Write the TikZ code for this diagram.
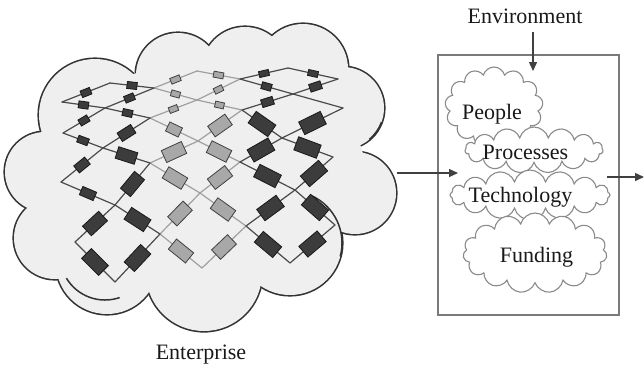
\documentclass[tikz,border=0pt]{standalone}
\usepackage{fontspec}
\setmainfont{Liberation Serif}
\usetikzlibrary{arrows.meta,shapes.symbols,calc}

\definecolor{cloudFill}{HTML}{EFEFEF}
\definecolor{cloudEdge}{HTML}{333333}
\definecolor{rectDark}{HTML}{3C3C3C}
\definecolor{rectGrey}{HTML}{A8A8A8}
\definecolor{wireDark}{HTML}{4A4A4A}
\definecolor{wireGrey}{HTML}{A0A0A0}
\definecolor{arrowInk}{HTML}{404040}
\definecolor{frameInk}{HTML}{7A7A7A}
\definecolor{puffInk}{HTML}{8A8A8A}

\tikzset{
  caption/.style={font=\fontsize{22}{26}\selectfont, inner sep=0pt, anchor=base, text=black!90},
  wire/.style={line width=1.2pt, line cap=round, line join=round},
  dark wire/.style={wire, draw=wireDark},
  grey wire/.style={wire, draw=wireGrey},
  module/.style={sloped, rectangle, inner sep=0pt, line width=0.8pt},
  dark mod/.style 2 args={module, fill=rectDark, draw=black!90, minimum width=#1pt, minimum height=#2pt},
  grey mod/.style 2 args={module, fill=rectGrey, draw=black!75, minimum width=#1pt, minimum height=#2pt},
  puff/.style={cloud, draw=puffInk, fill=white, line width=1.1pt, inner sep=0pt, aspect=1},
  flow/.style={draw=arrowInk, line width=1.4pt, -{Triangle[length=9pt,width=8pt]}},
  seam/.style={draw=cloudEdge, line width=1.5pt},
}
\def\greyname{grey}
\def\darkname{dark}

\begin{document}
\begin{tikzpicture}[x=1pt, y=-1pt]
\useasboundingbox (0,0) rectangle (644,368);

% ---------- the enterprise cloud: union of overlapping circles ----------
\def\bumps{95/115/56, 178/75/42, 245/70/43, 303/69/45, 343/108/41, 355/193/41,
  290/243/52, 204/273/58, 107/263/51, 55/238/41, 45/172/40}
\foreach \cx/\cy/\r in \bumps
  \draw[draw=cloudEdge, line width=3.2pt] (\cx,\cy) circle[radius=\r pt];
\foreach \cx/\cy/\r in \bumps
  \fill[cloudFill] (\cx,\cy) circle[radius=\r pt];
\fill[cloudFill] (200,170) ellipse[x radius=165pt, y radius=105pt];
% puff edges that show through the inside of the cloud
\draw[seam] ([shift={(65:52pt)}]290,243) arc[start angle=65, end angle=-15, radius=52pt];
\draw[seam] ([shift={(211:45pt)}]105,255) arc[start angle=211, end angle=289, radius=45pt];
\draw[seam] ([shift={(-20:41pt)}]343,108) arc[start angle=-20, end angle=-50, radius=41pt];

% ---------- lattice vertices ----------
% boundary vertices b<i><v>, i = 0..3 across, v = 0..3 front to back
\foreach \name/\x/\y in {
  b00/75/242, b01/61/182, b02/63/133, b03/62/102,
  b10/160/234, b11/150/163, b12/150/118, b13/154/88,
  b20/246/226, b21/240/162, b22/242/110, b23/240/79,
  b30/335/225, b31/333/157, b32/343/108, b33/338/79}
  \coordinate (\name) at (\x,\y);
% centre vertices c<j><k>, j = column, k = 0..4 front to back
\foreach \name/\x/\y in {
  c00/115/282, c01/115/205, c02/103/148, c03/105/108, c04/110/83,
  c10/202/268, c11/200/193, c12/198/141, c13/197/100, c14/197/71,
  c20/290/263, c21/295/190, c22/282/138, c23/293/94, c24/288/68}
  \coordinate (\name) at (\x,\y);

% edges: from/to/shade/module width/module height (width 0 = bare wire)
\def\edges{
  b00/c00/dark/24/14, c00/b10/dark/24/14, b00/c01/dark/22/13, c01/b10/dark/23/14,
  b01/c01/dark/15/9,  c01/b11/dark/22/13, b01/c02/dark/14/9,  c02/b11/dark/20/12,
  b02/c02/dark/11/7,  c02/b12/dark/16/10, b02/c03/dark/10/7,  c03/b12/dark/10/7,
  b03/c03/dark/10/7,  c03/b13/dark/10/7,  b03/c04/dark/10/7,  c04/b13/dark/10/7,
  b10/c10/grey/22/13, c10/b20/grey/22/13, b10/c11/grey/22/13, c11/b20/grey/22/13,
  b11/c11/grey/22/13, c11/b21/grey/22/13, b11/c12/grey/22/13, c12/b21/grey/22/13,
  b12/c12/grey/14/10, c12/b22/grey/21/13, b12/c13/grey/9/6,   c13/b22/grey/9/6,
  b13/c13/grey/9/6,   c13/b23/grey/9/6,   b13/c14/grey/10/6,  c14/b23/grey/10/6,
  b20/c20/dark/24/14, c20/b30/dark/24/14, b20/c21/dark/24/14, c21/b30/dark/24/14,
  b21/c21/dark/24/14, c21/b31/dark/24/14, b21/c22/dark/24/14, c22/b31/dark/24/14,
  b22/c22/dark/24/14, c22/b32/dark/24/14, b22/c23/dark/12/8,  c23/b32/dark/0/0,
  b23/c23/dark/10/7,  c23/b33/dark/12/8,  b23/c24/dark/10/6,  c24/b33/dark/10/6}

% ---------- wires (grey ones first) ----------
\foreach \p/\q/\kind/\w/\h in \edges {
  \ifx\kind\greyname \draw[grey wire] (\p) -- (\q); \fi
}
\foreach \p/\q/\kind/\w/\h in \edges {
  \ifx\kind\darkname \draw[dark wire] (\p) -- (\q); \fi
}

% ---------- modules on the wires ----------
\foreach \p/\q/\kind/\w/\h [count=\i] in \edges {
  \ifnum\w>0 \path (\p) -- node[\kind\space mod={\w}{\h}] (m\i) {} (\q); \fi
}

\node[caption] (ent) at (201,359) {Enterprise};

% ---------- the environment frame ----------
\node[draw=frameInk, line width=1.8pt, minimum width=181pt, minimum height=260pt, inner sep=0pt]
  (frame) at (528.5,185) {};

\node[puff, cloud puffs=13, minimum width=98pt, minimum height=80pt] (people) at (494,107) {};
\node[puff, cloud puffs=15, minimum width=138pt, minimum height=46pt] (proc) at (534,150) {};
\node[puff, cloud puffs=16, minimum width=160pt, minimum height=50pt] (tech) at (530,195) {};
\node[puff, cloud puffs=15, minimum width=144pt, minimum height=80pt] (fund) at (535,253) {};

\node[caption] (tPeople) at (492,119) {People};
\node[caption] (tProc) at (525.5,159) {Processes};
\node[caption] (tTech) at (520.5,202.5) {Technology};
\node[caption] (tFund) at (536.5,262.5) {Funding};
\node[caption] (env) at (525,23) {Environment};

% ---------- flows ----------
\coordinate (envIn) at (533,71);
\coordinate (entOut) at (397,173);
\coordinate (frameIn) at (458,173);
\coordinate (techOut) at (607,177);
\coordinate (outEnd) at (644,177);
\draw[flow] ([yshift=-9pt]env.south -| envIn) -- (envIn);
\draw[flow] (entOut) -- (frameIn);
\draw[flow] (techOut) -- (outEnd);
\end{tikzpicture}
\end{document}
